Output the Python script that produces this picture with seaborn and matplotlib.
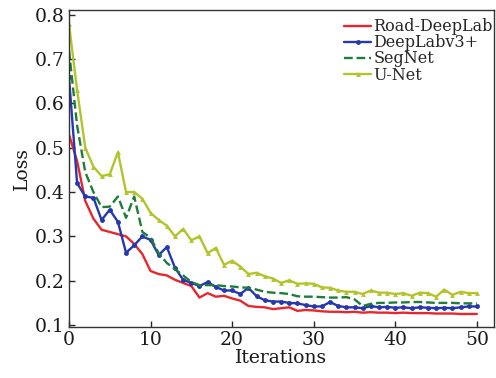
import matplotlib
matplotlib.use("Agg")
from matplotlib import pyplot as plt
import pandas as pd
import seaborn as sns

iterations = list(range(51))

road_deeplab = [0.53, 0.47, 0.38, 0.34, 0.315, 0.31, 0.305, 0.30, 0.283, 0.26,
                0.222, 0.215, 0.212, 0.202, 0.195, 0.188, 0.162, 0.172, 0.164, 0.166,
                0.16, 0.155, 0.143, 0.141, 0.14, 0.136, 0.138, 0.14, 0.132, 0.134,
                0.133, 0.131, 0.13, 0.13, 0.129, 0.13, 0.128, 0.129, 0.128, 0.128,
                0.127, 0.128, 0.127, 0.127, 0.127, 0.126, 0.126, 0.126, 0.125, 0.125,
                0.125]

deeplabv3 = [0.66, 0.42, 0.39, 0.387, 0.337, 0.36, 0.333, 0.263, 0.28, 0.30,
             0.292, 0.258, 0.276, 0.229, 0.202, 0.195, 0.188, 0.197, 0.186, 0.178,
             0.178, 0.17, 0.184, 0.165, 0.156, 0.153, 0.153, 0.15, 0.149, 0.145,
             0.142, 0.142, 0.152, 0.143, 0.14, 0.14, 0.138, 0.143, 0.14, 0.141,
             0.139, 0.14, 0.138, 0.14, 0.139, 0.138, 0.139, 0.138, 0.14, 0.142,
             0.142]

segnet = [0.72, 0.55, 0.445, 0.40, 0.366, 0.367, 0.39, 0.342, 0.39, 0.31,
          0.297, 0.262, 0.24, 0.226, 0.212, 0.197, 0.19, 0.19, 0.19, 0.188,
          0.187, 0.185, 0.184, 0.18, 0.175, 0.173, 0.172, 0.17, 0.165, 0.164,
          0.164, 0.163, 0.162, 0.162, 0.163, 0.158, 0.143, 0.148, 0.15, 0.15,
          0.151, 0.151, 0.152, 0.152, 0.151, 0.15, 0.15, 0.15, 0.149, 0.149,
          0.149]

unet = [0.78, 0.63, 0.50, 0.457, 0.436, 0.44, 0.49, 0.40, 0.40, 0.385,
        0.353, 0.337, 0.324, 0.30, 0.317, 0.291, 0.30, 0.262, 0.274, 0.236,
        0.245, 0.232, 0.215, 0.218, 0.21, 0.205, 0.195, 0.201, 0.193, 0.194,
        0.193, 0.185, 0.184, 0.178, 0.175, 0.175, 0.17, 0.178, 0.173, 0.173,
        0.17, 0.172, 0.166, 0.173, 0.172, 0.164, 0.18, 0.168, 0.175, 0.172,
        0.172]

names = ["Road-DeepLab", "DeepLabv3+", "SegNet", "U-Net"]
colors = ["#e8262c", "#2638b0", "#1f7d3a", "#b3c42a"]

df = pd.DataFrame({"Iterations": iterations, "Road-DeepLab": road_deeplab,
                   "DeepLabv3+": deeplabv3, "SegNet": segnet, "U-Net": unet})
df_long = df.melt(id_vars="Iterations", var_name="Model", value_name="Loss")

sns.set_style("ticks")
plt.rcParams['font.family'] = ['DejaVu Serif']

f, ax = plt.subplots(figsize=(4.96, 3.78), dpi=100)
f.subplots_adjust(left=0.139, right=0.996, top=0.974, bottom=0.135)

styles = {
    "Road-DeepLab": dict(linestyle="-", marker=None),
    "DeepLabv3+": dict(linestyle="-", marker="o", markersize=3.5),
    "SegNet": dict(linestyle="--", marker=None),
    "U-Net": dict(linestyle="-", marker="^", markersize=3.5),
}
for name, c in zip(names, colors):
    sub = df_long[df_long["Model"] == name]
    sns.lineplot(data=sub, x="Iterations", y="Loss", ax=ax, color=c, label=name,
                 linewidth=1.7, markeredgewidth=0, **styles[name])

ax.set_xlim(0, 52.1)
ax.set_ylim(0.0957, 0.811)
ax.set_xticks([0, 10, 20, 30, 40, 50])
ax.set_yticks([0.1, 0.2, 0.3, 0.4, 0.5, 0.6, 0.7, 0.8])
ax.tick_params(direction="in", length=4, width=1, labelsize=13.5, pad=3,
               labelcolor="#1a1a1a")
ax.set_xlabel("Iterations", fontsize=13.5, labelpad=0, color="#1a1a1a")
ax.set_ylabel("Loss", fontsize=13.5, labelpad=3, color="#1a1a1a")
for s in ax.spines.values():
    s.set_linewidth(1.0)
    s.set_color("#333333")

ax.legend(loc="upper right", bbox_to_anchor=(0.997, 0.973), frameon=False,
          fontsize=11.5, handlelength=1.7, handletextpad=0.12, labelspacing=-0.06,
          borderaxespad=0, borderpad=0)

plt.savefig("out.png", dpi=100)
